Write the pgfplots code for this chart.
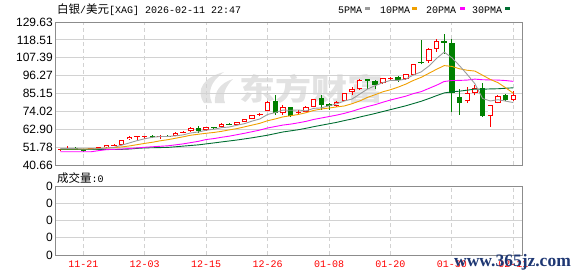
\documentclass[border=0pt]{standalone}
\usepackage{pgfplots}
\pgfplotsset{compat=1.18}
\usepackage{pgfplotstable}
\usepackage{fontspec}
\setmainfont{Liberation Sans}
\newfontfamily\cjk{Noto Sans CJK SC}
\newfontfamily\mono{Liberation Mono}
\newfontfamily\wmserif{Liberation Serif}

\definecolor{upred}{RGB}{255,0,0}
\definecolor{dngreen}{RGB}{0,128,0}
\definecolor{maA}{RGB}{155,155,155}
\definecolor{maB}{RGB}{240,160,0}
\definecolor{maC}{RGB}{255,0,255}
\definecolor{maD}{RGB}{0,110,50}
\definecolor{gridc}{RGB}{210,210,210}
\definecolor{framec}{RGB}{140,140,140}
\definecolor{wmblue}{RGB}{30,55,115}
\definecolor{wmgray}{RGB}{226,226,226}

% up (red, hollow) candles: index open close high low
\pgfplotstableread{
x o c h l
0 50.0 50.5 50.9 49.6
1 51.0 51.4 52.2 50.6
4 50.4 51.0 51.4 50.0
5 51.1 51.6 52.0 50.8
6 51.7 53.0 53.3 51.4
7 53.0 53.3 54.0 52.6
8 53.4 56.0 56.4 53.1
9 56.8 58.3 58.7 56.3
10 58.1 58.6 58.8 56.0
11 58.2 58.7 58.9 56.6
13 57.9 58.5 59.6 57.0
15 59.0 60.6 61.0 58.7
16 60.8 61.5 61.9 60.4
17 61.8 63.7 64.1 61.5
19 62.4 64.1 64.5 62.0
21 64.1 66.2 66.5 63.8
23 65.8 67.2 67.6 65.4
24 67.6 69.1 69.4 67.3
25 69.5 71.6 72.0 69.2
26 71.9 72.4 73.2 71.2
27 74.4 80.0 80.4 74.0
29 72.8 76.6 78.0 71.8
31 73.2 73.8 74.6 72.6
32 73.8 76.6 77.6 73.4
33 77.0 81.5 81.9 76.6
36 77.6 80.0 80.6 77.0
37 80.7 85.3 85.7 80.3
38 85.9 87.8 88.9 84.2
39 87.8 93.5 93.9 87.4
42 91.5 94.6 95.0 91.2
43 94.4 94.8 95.4 93.8
45 94.2 97.1 97.5 93.8
46 96.8 103.3 103.7 96.4
48 105.2 112.6 113.4 104.2
49 113.0 117.8 119.2 111.0
53 80.3 85.5 89.0 79.2
54 85.6 88.6 90.4 84.0
56 71.1 77.8 78.2 64.4
57 79.4 83.6 84.2 79.0
59 81.1 84.0 86.7 80.7
}\upT

% down (green, filled) candles
\pgfplotstableread{
x o c h l
2 51.3 50.9 51.8 50.5
3 50.2 49.3 50.6 48.6
12 59.0 57.8 59.4 57.4
14 58.9 58.6 59.3 58.1
18 63.9 61.8 64.9 60.8
20 64.0 63.5 64.4 63.0
22 66.4 66.0 66.9 65.5
28 80.7 73.2 84.2 71.8
30 76.6 71.1 76.9 70.6
34 82.2 78.0 84.2 74.9
35 78.4 77.6 79.0 74.9
40 94.0 93.1 94.3 87.8
41 92.7 90.4 93.5 87.8
44 95.6 93.5 96.0 92.5
47 104.8 104.3 118.3 103.3
50 117.6 116.7 122.4 109.9
51 116.8 85.6 119.2 73.6
52 82.9 79.4 88.1 72.0
55 88.4 71.1 91.5 70.7
58 84.2 81.1 84.6 80.5
}\dnT

% moving averages
\pgfplotstableread{
x ma5 ma10 ma20 ma30
0 50.8 50.6 48.9 50.4
1 50.9 50.6 48.9 50.4
2 50.8 50.6 48.9 50.4
3 50.6 50.6 48.9 50.4
4 50.6 50.7 48.9 50.4
5 50.8 50.9 49.6 50.4
6 51.2 51.2 50.2 50.4
7 51.6 51.5 50.4 50.4
8 53.0 51.9 50.6 50.4
9 54.4 52.5 50.9 50.6
10 55.8 53.3 51.3 51.0
11 57.0 54.1 51.7 51.3
12 57.9 54.8 52.0 51.4
13 58.4 55.7 52.3 51.5
14 58.4 56.4 52.6 51.6
15 58.8 57.3 53.2 52.0
16 59.4 58.2 53.8 52.4
17 60.6 59.2 54.6 52.8
18 61.2 59.8 55.4 53.2
19 62.3 60.4 56.5 53.8
20 62.9 60.9 57.1 54.4
21 63.9 61.6 57.9 55.0
22 64.3 62.5 58.6 55.6
23 65.4 63.3 59.5 56.2
24 66.4 64.4 60.4 56.9
25 68.0 65.5 61.4 57.6
26 69.3 66.6 62.4 58.4
27 72.1 68.2 63.7 59.2
28 73.3 69.3 64.6 60.2
29 74.8 70.6 65.5 61.2
30 74.7 71.3 66.1 61.9
31 74.9 72.1 66.9 62.6
32 74.3 73.2 67.8 63.5
33 75.9 74.6 69.0 64.5
34 76.2 75.5 69.9 65.4
35 77.5 76.1 70.8 66.3
36 78.7 76.8 71.7 67.2
37 80.5 77.4 72.8 68.3
38 81.7 78.8 74.1 69.3
39 84.8 80.5 75.6 70.5
40 87.9 82.7 77.0 71.6
41 90.0 84.4 78.2 72.7
42 91.9 86.2 79.7 73.9
43 93.3 87.5 81.1 75.1
44 93.3 89.1 82.3 76.3
45 94.1 91.0 83.5 77.5
46 96.7 93.3 85.1 78.9
47 98.6 95.2 86.3 80.3
48 102.2 97.7 88.3 82.0
49 107.0 100.2 90.3 83.8
50 110.9 102.5 92.6 85.5
51 107.4 102.0 93.2 86.2
52 102.4 100.5 93.3 86.6
53 97.0 99.6 93.5 87.2
54 91.2 99.1 94.1 87.9
55 82.0 96.5 93.7 87.8
56 80.5 93.9 93.6 88.0
57 81.3 91.9 93.5 88.1
58 80.4 88.7 93.2 88.4
59 79.5 85.3 92.7 88.7
}\maT

\pgfplotsset{
  kstyle/.style={
    scale only axis, width=466.5pt,
    xmin=-0.62, xmax=60.13,
    axis line style={framec, line width=0.9pt},
    major tick length=0pt,
    xtick={3,11,19,27,35,43,51,59},
    xmajorgrids, ymajorgrids,
    x grid style={gridc, line width=0.8pt, dash pattern=on 4pt off 3pt},
    y grid style={gridc, line width=0.8pt},
    yticklabel style={font=\fontsize{12}{12}\selectfont, text=black, inner sep=0pt, xshift=-2.5pt},
  },
  wick/.style={draw=none, mark=none, forget plot,
    error bars/.cd, y dir=plus, y explicit, error mark=none,
    error bar style={draw=#1, solid, line width=1pt}},
  body/.style 2 args={draw=none, mark=none, forget plot,
    error bars/.cd, y dir=plus, y explicit, error mark=none,
    error bar style={draw=#1, solid, line width=#2}},
}

\begin{document}
\begin{tikzpicture}
\path[use as bounding box] (0pt,0pt) rectangle (578pt,-276pt);

% background watermark
\fill[wmgray] (204pt,-103pt) .. controls (195pt,-90pt) and (204pt,-77pt) .. (224pt,-72pt) .. controls (211pt,-81pt) and (207pt,-92pt) .. (212pt,-103pt) -- cycle;
\fill[wmgray] (215pt,-103pt) .. controls (214pt,-92pt) and (220pt,-83pt) .. (233pt,-79pt) .. controls (225pt,-87pt) and (222pt,-95pt) .. (225pt,-103pt) -- cycle;
\node[text=wmgray, font=\cjk\bfseries\fontsize{30}{30}\selectfont, xscale=1.2, inner sep=0pt] at (311pt,-88.5pt) {东方财富};

% price panel
\begin{axis}[kstyle, at={(55.5pt,-22pt)}, anchor=north west, height=143pt,
  ymin=40.66, ymax=129.63,
  ytick={40.66,51.78,62.90,74.02,85.15,96.27,107.39,118.51,129.63},
  yticklabels={40.66,51.78,62.90,74.02,85.15,96.27,107.39,118.51,129.63},
  xticklabels={}]
% wicks
\addplot[wick=upred] table[x=x, y=l, y error expr=\thisrow{h}-\thisrow{l}] {\upT};
\addplot[wick=dngreen] table[x=x, y=l, y error expr=\thisrow{h}-\thisrow{l}] {\dnT};
% bodies
\addplot[body={dngreen}{5.5pt}] table[x=x, y=c, y error expr=\thisrow{o}-\thisrow{c}] {\dnT};
\addplot[body={upred}{5.5pt}] table[x=x, y=o, y error expr=\thisrow{c}-\thisrow{o}] {\upT};
\addplot[body={white}{3.6pt}] table[x=x, y expr=\thisrow{o}+0.6, y error expr={max(\thisrow{c}-\thisrow{o}-1.2,0)}] {\upT};
% moving averages
\addplot[maD, line width=0.9pt, mark=none] table[x=x, y=ma30] {\maT};
\addplot[maC, line width=0.9pt, mark=none] table[x=x, y=ma20] {\maT};
\addplot[maB, line width=0.9pt, mark=none] table[x=x, y=ma10] {\maT};
\addplot[maA, line width=0.9pt, mark=none] table[x=x, y=ma5] {\maT};
\end{axis}

% volume panel
\begin{axis}[kstyle, at={(55.5pt,-186pt)}, anchor=north west, height=69pt,
  ymin=0, ymax=4, ytick={0,1,2,3,4}, yticklabels={0,0,0,0,0},
  xticklabels={11-21,12-03,12-15,12-26,01-08,01-20,01-30,02-11},
  xticklabel style={text=upred, font=\mono\fontsize{10}{10}\selectfont, yshift=-2pt}]
\addplot[draw=none, mark=none, forget plot] coordinates {(0,0)};
\end{axis}

% title
\node[anchor=base west, inner sep=0pt] at (57pt,-13pt)
  {\cjk\fontsize{11.5}{12}\selectfont 白银{\mono\fontsize{10}{10}\selectfont /}美元{\mono\fontsize{10}{10}\selectfont [XAG] 2026-02-11 22:47}};

% legend
\begin{scope}[every node/.style={anchor=base west, inner sep=0pt, font=\mono\fontsize{10}{10}\selectfont}]
\node at (338pt,-13pt) {5PMA};
\fill[maA] (364.5pt,-7.4pt) rectangle (369.5pt,-10pt);
\node at (380pt,-13pt) {10PMA};
\fill[maB] (412pt,-7.4pt) rectangle (417pt,-10pt);
\node at (426pt,-13pt) {20PMA};
\fill[maC] (459.5pt,-7.4pt) rectangle (464.5pt,-10pt);
\node at (472pt,-13pt) {30PMA};
\fill[maD] (505pt,-7.4pt) rectangle (510pt,-10pt);
\end{scope}

% volume title
\node[anchor=base west, inner sep=0pt] at (57pt,-182pt)
  {\cjk\fontsize{11.5}{12}\selectfont 成交量{\mono\fontsize{10}{10}\selectfont :0}};

% site watermark
\node[anchor=base west, inner sep=0pt, text=wmblue, font=\wmserif\bfseries\fontsize{17.5}{18}\selectfont] at (454pt,-266.5pt) {www.365jz.com};
\end{tikzpicture}
\end{document}
